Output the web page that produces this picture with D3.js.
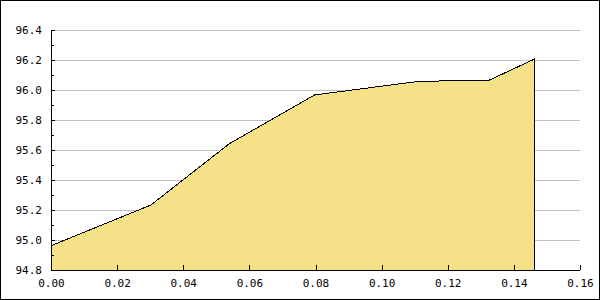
<!DOCTYPE html>
<html>
<head>
<meta charset="utf-8">
<script src="https://cdn.jsdelivr.net/npm/d3@7"></script>
<style>
  body { margin: 0; background: #fff; }
  text { font-family: "DejaVu Sans Mono", monospace; font-size: 11px; fill: #000; }
</style>
</head>
<body>
<div id="chart"></div>
<script>
// data
var xValues = [0, 0.0302, 0.054, 0.0797, 0.1114, 0.1325, 0.1461];
var yValues = [94.962, 95.233, 95.643, 95.967, 96.058, 96.065, 96.205];
var xTicks = [0, 0.02, 0.04, 0.06, 0.08, 0.10, 0.12, 0.14, 0.16];
var yTicks = [94.8, 95.0, 95.2, 95.4, 95.6, 95.8, 96.0, 96.2, 96.4];
var yMinorTicks = [94.9, 95.1, 95.3, 95.5, 95.7, 95.9, 96.1, 96.3];

var data = xValues.map(function(d, i){ return {x: d, y: yValues[i]}; });

// set the dimensions and margins of the graph
var W = 600, H = 300;
var margin = {top: 30, right: 20, bottom: 30, left: 51},
    width = 580 - margin.left,
    height = 270 - margin.top;

var root = d3.select("#chart")
  .append("svg")
    .attr("width", W)
    .attr("height", H);

// outer frame
root.append("rect")
  .attr("x", 0.5).attr("y", 0.5)
  .attr("width", W - 1).attr("height", H - 1)
  .attr("fill", "#fff")
  .attr("stroke", "#000")
  .attr("shape-rendering", "crispEdges");

var svg = root.append("g")
  .attr("transform", "translate(" + margin.left + "," + margin.top + ")");

var x = d3.scaleLinear()
  .domain([0, 0.16])
  .range([0, width]);

var y = d3.scaleLinear()
  .domain([94.8, 96.4])
  .range([height, 0]);

// grid lines
svg.append("g")
  .selectAll("line")
  .data(yTicks.slice(1))
  .enter()
  .append("line")
    .attr("x1", 0)
    .attr("x2", width)
    .attr("y1", function(d){ return Math.round(y(d)) + 0.5; })
    .attr("y2", function(d){ return Math.round(y(d)) + 0.5; })
    .attr("stroke", "#c0c0c0");

// area
var area = d3.area()
  .x(function(d){ return x(d.x); })
  .y0(y(94.8))
  .y1(function(d){ return y(d.y); });

svg.append("path")
  .datum(data)
  .attr("d", area)
  .attr("fill", "#f5e187")
  .attr("stroke", "#000")
  .attr("stroke-width", 1)
  .attr("shape-rendering", "crispEdges");

// Y axis
var yAxis = svg.append("g")
  .call(d3.axisLeft(y).tickValues(yTicks).tickSize(-4).tickPadding(9)
    .tickFormat(d3.format(".1f")));
yAxis.select(".domain").remove();
yAxis.append("line")
  .attr("x1", 0.5).attr("x2", 0.5)
  .attr("y1", 0).attr("y2", height)
  .attr("stroke", "#000");
yAxis.selectAll("text").attr("font-family", null).attr("font-size", null).attr("x", -9);

svg.append("g")
  .selectAll("line")
  .data(yMinorTicks)
  .enter()
  .append("line")
    .attr("x1", 0)
    .attr("x2", 3)
    .attr("y1", function(d){ return Math.round(y(d)) + 0.5; })
    .attr("y2", function(d){ return Math.round(y(d)) + 0.5; })
    .attr("stroke", "#000");

// X axis
var xAxis = svg.append("g")
  .attr("transform", "translate(0," + height + ")")
  .call(d3.axisBottom(x).tickValues(xTicks).tickSize(-5).tickPadding(9)
    .tickFormat(d3.format(".2f")));
xAxis.select(".domain").remove();
xAxis.append("line")
  .attr("x1", 0).attr("x2", width)
  .attr("y1", 0.5).attr("y2", 0.5)
  .attr("stroke", "#000");
xAxis.selectAll("text").attr("font-family", null).attr("font-size", null);

root.selectAll("line").attr("shape-rendering", "crispEdges");
</script>
</body>
</html>
